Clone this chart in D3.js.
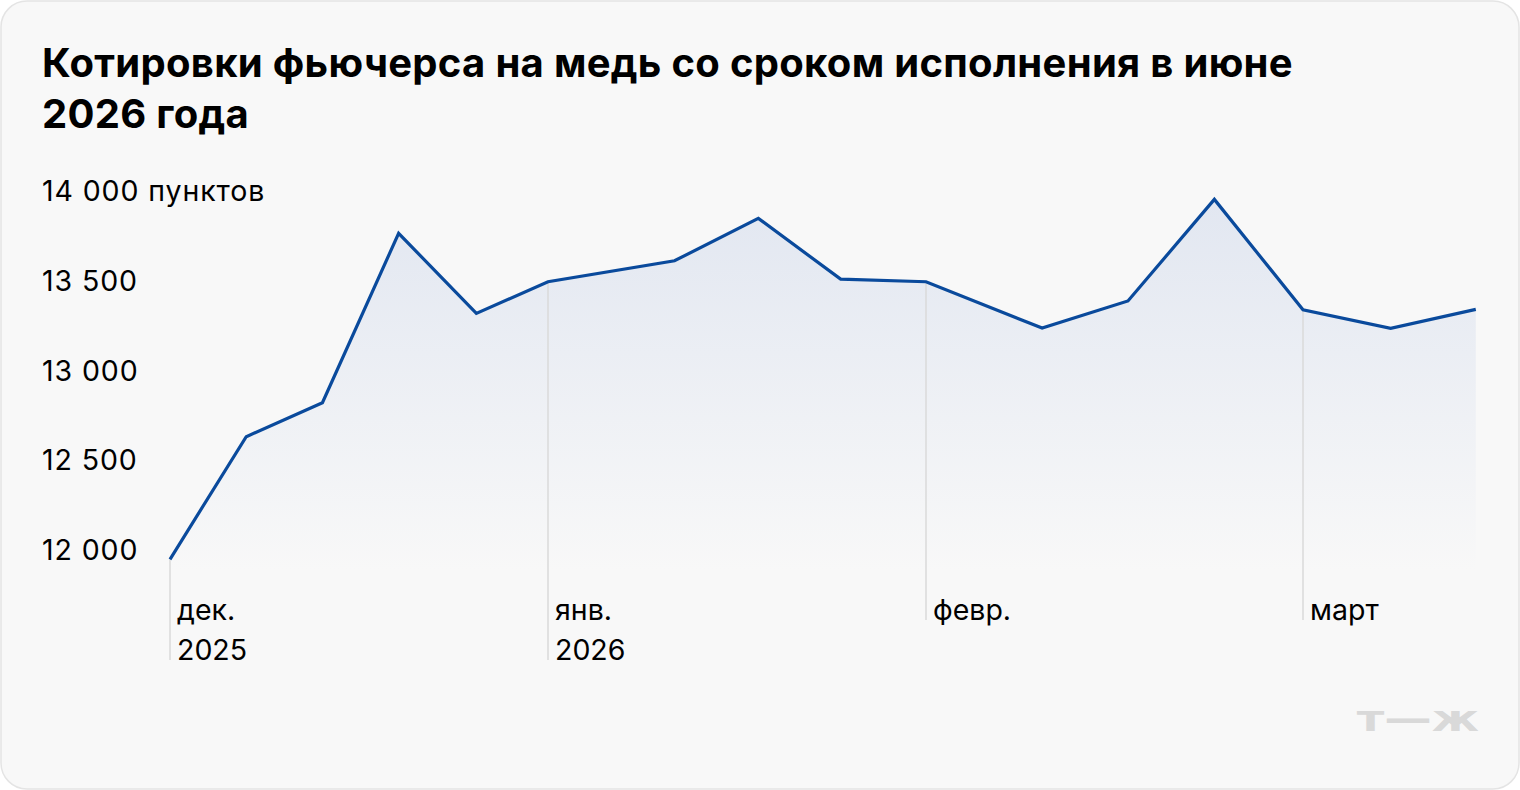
<!DOCTYPE html>
<html><head><meta charset="utf-8">
<script src="https://cdn.jsdelivr.net/npm/d3@7"></script>
<style>
html,body{margin:0;padding:0;background:#fff;}
svg{display:block;}
</style></head>
<body>
<svg id="chart" width="1520" height="790"></svg>
<script>
// ---- data ----
const titleLines = ["Котировки фьючерса на медь со сроком исполнения в июне", "2026 года"];
const dates = ["2025-12-01T00:00","2025-12-07T06:00","2025-12-13T12:00","2025-12-19T18:00","2025-12-26T03:00",
  "2026-01-01T00:00","2026-01-11T09:00","2026-01-18T06:00","2026-01-25T00:00",
  "2026-02-01T00:00","2026-02-09T15:00","2026-02-16T00:00","2026-02-22T10:00",
  "2026-03-01T00:00","2026-03-08T05:00","2026-03-15T05:00"];
const values = [12004, 12687, 12876, 13820, 13374, 13550, 13667, 13903, 13565, 13550, 13292, 13443, 14009, 13394, 13291, 13396];
const yTicks = [12000, 12500, 13000, 13500, 14000];
const yUnit = " пунктов";
const monthTicks = ["2025-12-01","2026-01-01","2026-02-01","2026-03-01"];
const monthLabels = [["дек.","2025"],["янв.","2026"],["февр."],["март"]];

// ---- setup ----
const W = 1520, H = 790;
const svg = d3.select("#chart");
const parse = d3.isoParse;
const data = dates.map((d,i)=>({date: parse(d), value: values[i]}));
const FONT = "Inter, 'Noto Sans', sans-serif";

// card
svg.append("rect").attr("x",1).attr("y",1).attr("width",W-2).attr("height",H-2)
  .attr("rx",26).attr("fill","#f8f8f8").attr("stroke","#e4e4e4").attr("stroke-width",1.5);

// title
const title = svg.append("text").attr("x",42).attr("font-family",FONT).attr("font-weight",700)
  .attr("font-size",40).attr("letter-spacing",0.3).attr("fill","#000");
titleLines.forEach((t,i)=>title.append("tspan").attr("x",42).attr("y",77+i*51).text(t));

// scales (month-piecewise time scale)
const x = d3.scaleTime()
  .domain([parse("2025-12-01"), parse("2026-01-01"), parse("2026-02-01"), parse("2026-03-01"), parse("2026-04-01")])
  .range([170, 548, 926, 1303, 1680]);
const y = d3.scaleLinear().domain([12000,14000]).range([560,201]);

// gradient
const defs = svg.append("defs");
const grad = defs.append("linearGradient").attr("id","areaGrad").attr("gradientUnits","userSpaceOnUse")
  .attr("x1",0).attr("x2",0).attr("y1",y(14000)).attr("y2",y(12000)+10);
grad.append("stop").attr("offset",0).attr("stop-color","#e2e7f1");
grad.append("stop").attr("offset",1).attr("stop-color","#f8f8f8");

// area
const area = d3.area().x(d=>x(d.date)).y0(y(12000)+10).y1(d=>y(d.value));
svg.append("path").datum(data).attr("d",area).attr("fill","url(#areaGrad)");

// month lines & labels
function valueAt(dt){
  const t = +dt;
  for (let i=0;i<data.length-1;i++){
    const a=data[i], b=data[i+1];
    if (t>=+a.date && t<=+b.date){
      const f=(t-a.date)/(b.date-a.date);
      return a.value+(b.value-a.value)*f;
    }
  }
  return data[data.length-1].value;
}
const lineH = 40, firstBase = 620;
monthTicks.forEach((m,i)=>{
  const dt = parse(m), xx = x(dt);
  const labs = monthLabels[i];
  const bottom = firstBase + (labs.length-1)*lineH;
  svg.append("line").attr("x1",xx).attr("x2",xx).attr("y1",y(valueAt(dt))).attr("y2",bottom)
    .attr("stroke","#dadada").attr("stroke-width",1.5);
  const tx = svg.append("text").attr("font-family",FONT).attr("font-size",28.5).attr("fill","#000");
  labs.forEach((l,j)=>tx.append("tspan").attr("x",xx+7).attr("y",firstBase+j*lineH).text(l));
});

// line
const line = d3.line().x(d=>x(d.date)).y(d=>y(d.value));
svg.append("path").datum(data).attr("d",line).attr("fill","none")
  .attr("stroke","#0a4a9c").attr("stroke-width",3.2).attr("stroke-linejoin","miter");

// y labels
const fmt = v => d3.format(",")(v).replace(/,/g," ");
yTicks.forEach((v,i)=>{
  svg.append("text").attr("x",42).attr("y",y(v)).attr("font-family",FONT).attr("font-size",28.5)
    .attr("letter-spacing",0.9).attr("fill","#000").text(fmt(v) + (i===yTicks.length-1 ? yUnit : ""));
});

// logo
svg.append("text").attr("x",1479).attr("y",731).attr("text-anchor","end")
  .attr("font-family","'DejaVu Sans', sans-serif").attr("font-weight",700).attr("font-size",36)
  .attr("fill","#d9d9d9").attr("transform","translate(1479,0) scale(1.32,1) translate(-1479,0)")
  .text("т—ж");
</script>
</body></html>
